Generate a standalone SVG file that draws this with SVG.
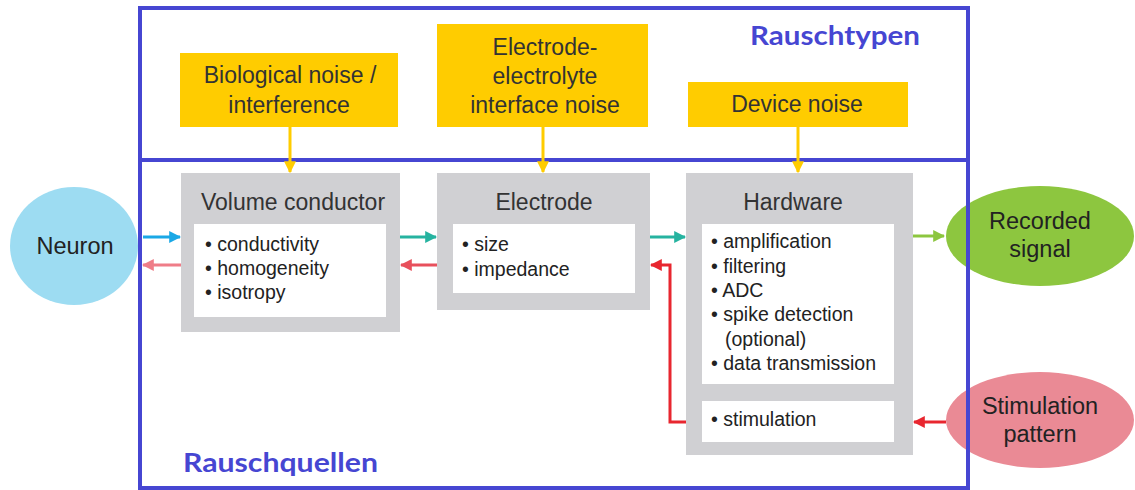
<svg xmlns="http://www.w3.org/2000/svg" width="1135" height="490" viewBox="0 0 1135 490">
<defs>
<style>
.frame{fill:none;stroke:#4646d2;stroke-width:4}
.sec{font-family:Lato,"Open Sans",sans-serif;font-weight:bold;font-size:26px;fill:#4646d2}
.ybox{fill:#ffcc00}
.yt{font-family:"Liberation Sans",Arial,sans-serif;font-size:23px;fill:#333;text-anchor:middle}
.gbox{fill:#d0d0d3}
.wbox{fill:#fff}
.title{font-family:"Liberation Sans",Arial,sans-serif;font-size:23px;fill:#333;text-anchor:middle}
.item{font-family:"Liberation Sans",Arial,sans-serif;font-size:19.5px;fill:#222}
.et{font-family:"Liberation Sans",Arial,sans-serif;font-size:23.5px;fill:#222;text-anchor:middle}
.c{fill:none;stroke-width:3}
</style>
<marker id="aY" viewBox="0 0 10 10" refX="9" refY="5" markerWidth="4" markerHeight="4" orient="auto" markerUnits="strokeWidth"><path d="M0,0L10,5L0,10z" fill="#ffcc00"/></marker>
<marker id="aB" viewBox="0 0 10 10" refX="9" refY="5" markerWidth="4" markerHeight="4" orient="auto" markerUnits="strokeWidth"><path d="M0,0L10,5L0,10z" fill="#1aa8e6"/></marker>
<marker id="aP" viewBox="0 0 10 10" refX="9" refY="5" markerWidth="4" markerHeight="4" orient="auto" markerUnits="strokeWidth"><path d="M0,0L10,5L0,10z" fill="#ef7d88"/></marker>
<marker id="aT" viewBox="0 0 10 10" refX="9" refY="5" markerWidth="4" markerHeight="4" orient="auto" markerUnits="strokeWidth"><path d="M0,0L10,5L0,10z" fill="#26b3a0"/></marker>
<marker id="aR" viewBox="0 0 10 10" refX="9" refY="5" markerWidth="4" markerHeight="4" orient="auto" markerUnits="strokeWidth"><path d="M0,0L10,5L0,10z" fill="#e8505c"/></marker>
<marker id="aRR" viewBox="0 0 10 10" refX="9" refY="5" markerWidth="4" markerHeight="4" orient="auto" markerUnits="strokeWidth"><path d="M0,0L10,5L0,10z" fill="#e8262f"/></marker>
<marker id="aG" viewBox="0 0 10 10" refX="9" refY="5" markerWidth="4" markerHeight="4" orient="auto" markerUnits="strokeWidth"><path d="M0,0L10,5L0,10z" fill="#8cc63f"/></marker>
</defs>
<rect width="1135" height="490" fill="#fff"/>

<g id="neuron"><ellipse cx="74" cy="246" rx="64" ry="59" fill="#9ddcf2"/><text class="et" x="75" y="254">Neuron</text></g>
<g id="recorded"><ellipse cx="1040" cy="236" rx="94" ry="50" fill="#8dc63f"/><text class="et" x="1040" y="229">Recorded</text><text class="et" x="1040" y="257">signal</text></g>
<g id="stimulation-pattern"><ellipse cx="1040" cy="420" rx="94" ry="48" fill="#ea8a95"/><text class="et" x="1040" y="414">Stimulation</text><text class="et" x="1040" y="442">pattern</text></g>

<g id="rauschtypen"><rect class="frame" x="140" y="8" width="828" height="152"/><text class="sec" x="750" y="45" textLength="170" lengthAdjust="spacingAndGlyphs">Rauschtypen</text></g>
<g id="rauschquellen"><rect class="frame" x="140" y="160" width="828" height="328"/><text class="sec" x="183" y="472" textLength="195" lengthAdjust="spacingAndGlyphs">Rauschquellen</text></g>

<g id="bio-noise"><rect class="ybox" x="180" y="53" width="218" height="74"/><text class="yt" x="290" y="83">Biological noise /</text><text class="yt" x="289" y="113">interference</text></g>
<g id="ee-noise"><rect class="ybox" x="437" y="24" width="211" height="103"/><text class="yt" x="545" y="55">Electrode-</text><text class="yt" x="545" y="84">electrolyte</text><text class="yt" x="545" y="113">interface noise</text></g>
<g id="device-noise"><rect class="ybox" x="688" y="82" width="220" height="45"/><text class="yt" x="797" y="112">Device noise</text></g>

<g id="volume-conductor"><rect class="gbox" x="181" y="173" width="219" height="159"/><text class="title" x="293" y="210">Volume conductor</text><rect class="wbox" x="194" y="224" width="192" height="93"/><text class="item" x="205" y="251">• conductivity</text><text class="item" x="205" y="275">• homogeneity</text><text class="item" x="205" y="299">• isotropy</text></g>
<g id="electrode"><rect class="gbox" x="437" y="173" width="213" height="137"/><text class="title" x="544" y="210">Electrode</text><rect class="wbox" x="453" y="224" width="182" height="69"/><text class="item" x="462" y="251">• size</text><text class="item" x="462" y="276">• impedance</text></g>
<g id="hardware"><rect class="gbox" x="686" y="173" width="227" height="282"/><text class="title" x="793" y="210">Hardware</text><rect class="wbox" x="702" y="224" width="192" height="160"/><text class="item" x="711" y="248">• amplification</text><text class="item" x="711" y="273">• filtering</text><text class="item" x="711" y="297">• ADC</text><text class="item" x="711" y="321">• spike detection</text><text class="item" x="725" y="346">(optional)</text><text class="item" x="711" y="370">• data transmission</text><rect class="wbox" x="702" y="401" width="192" height="41"/><text class="item" x="711" y="426">• stimulation</text></g>

<g id="connectors">
<path class="c" d="M290,127V172" stroke="#ffcc00" marker-end="url(#aY)"/>
<path class="c" d="M543,127V172" stroke="#ffcc00" marker-end="url(#aY)"/>
<path class="c" d="M798,127V172" stroke="#ffcc00" marker-end="url(#aY)"/>
<path class="c" d="M143,237H180" stroke="#1aa8e6" marker-end="url(#aB)"/>
<path class="c" d="M181,265H143" stroke="#ef7d88" marker-end="url(#aP)"/>
<path class="c" d="M400,237H436" stroke="#26b3a0" marker-end="url(#aT)"/>
<path class="c" d="M437,265H401" stroke="#e8505c" marker-end="url(#aR)"/>
<path class="c" d="M650,237H685" stroke="#26b3a0" marker-end="url(#aT)"/>
<path class="c" d="M686,422H670V265H651" stroke="#e8262f" marker-end="url(#aRR)"/>
<path class="c" d="M913,236H944" stroke="#8cc63f" marker-end="url(#aG)"/>
<path class="c" d="M946,422H914" stroke="#e8262f" marker-end="url(#aRR)"/>
</g>
</svg>
